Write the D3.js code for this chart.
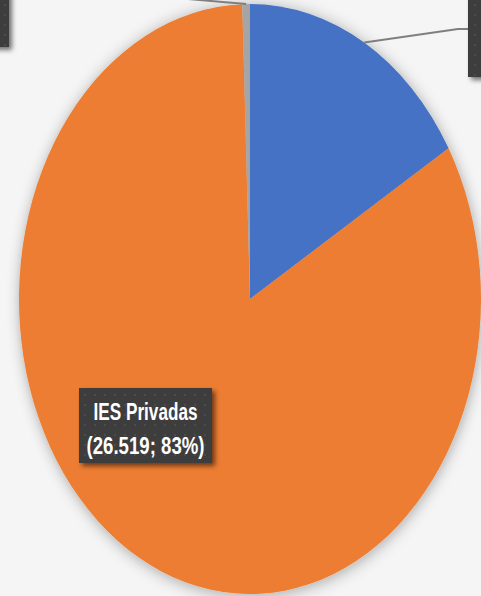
<!DOCTYPE html>
<html>
<head>
<meta charset="utf-8">
<script src="https://cdn.jsdelivr.net/npm/d3@7"></script>
<style>
  html, body { margin: 0; padding: 0; background: #f5f5f5; overflow: hidden; }
  svg { display: block; }
</style>
</head>
<body>
<div id="chart"></div>
<script>
// ── Data ─────────────────────────────────────────────────────
const categories = ['IES Públicas', 'IES Privadas', 'IES Especiais'];
const values     = [5260, 26519, 170];
const colors     = ['#4472C4', '#ED7D31', '#A5A5A5'];

const width  = 481;
const height = 596;
const cx = 250, cy = 299;
const rx = 231, ry = 295;

const total = d3.sum(values);
const fmtNum = d3.format(',d');
const label = (i) => `(${fmtNum(values[i]).replace(/,/g, '.')}; ${Math.round(values[i] / total * 100)}%)`;

const svg = d3.select('#chart').append('svg')
  .attr('width', width)
  .attr('height', height);

const defs = svg.append('defs');

// soft outer shadow round the pie
const pieShadow = defs.append('filter').attr('id', 'pieShadow')
  .attr('x', '-20%').attr('y', '-20%').attr('width', '140%').attr('height', '140%');
pieShadow.append('feDropShadow')
  .attr('dx', 1).attr('dy', 2).attr('stdDeviation', 8)
  .attr('flood-color', '#000').attr('flood-opacity', 0.32);

// label box shadow
const boxShadow = defs.append('filter').attr('id', 'boxShadow')
  .attr('x', '-20%').attr('y', '-20%').attr('width', '140%').attr('height', '140%');
boxShadow.append('feDropShadow')
  .attr('dx', 3).attr('dy', 3).attr('stdDeviation', 2.5)
  .attr('flood-color', '#000').attr('flood-opacity', 0.55);

// dotted dark fill of the label boxes
const dots = defs.append('pattern').attr('id', 'dots')
  .attr('patternUnits', 'userSpaceOnUse').attr('width', 10).attr('height', 10);
dots.append('rect').attr('width', 10).attr('height', 10).attr('fill', '#3d3d3d');
dots.append('rect').attr('x', 4).attr('y', 4).attr('width', 2).attr('height', 2).attr('fill', '#4c4c4c');

// ── Pie ──────────────────────────────────────────────────────
const pie = d3.pie().sort(null).value(d => d)(values);
const arc = d3.arc().innerRadius(0).outerRadius(ry);

svg.append('g')
  .attr('transform', `translate(${cx},${cy}) scale(${rx / ry},1)`)
  .attr('filter', 'url(#pieShadow)')
  .selectAll('path')
  .data(pie)
  .join('path')
  .attr('d', arc)
  .attr('fill', (d, i) => colors[i]);

// point on the ellipse edge at the middle of a slice
function edgePoint(d) {
  const a = (d.startAngle + d.endAngle) / 2;
  return [cx + rx * Math.sin(a), cy - ry * Math.cos(a)];
}

// ── Labels ───────────────────────────────────────────────────
// (the Públicas and Especiais boxes run off the canvas, as in the original)
const boxes = [
  { i: 0, x: 468, y: -30, w: 190, h: 107, leader: [[458, 29], [468, 29]] },
  { i: 1, x: 79,  y: 388, w: 133, h: 75,  leader: null },
  { i: 2, x: -150, y: -30, w: 159, h: 77, leader: [[165, -3]] },
];

const font = '"Liberation Sans", Arial, sans-serif';

boxes.forEach(b => {
  if (b.leader) {
    const pts = [edgePoint(pie[b.i]), ...b.leader];
    svg.append('path')
      .attr('d', d3.line()(pts))
      .attr('fill', 'none')
      .attr('stroke', '#7f7f7f')
      .attr('stroke-width', 2);
  }
  const g = svg.append('g');
  g.append('rect')
    .attr('x', b.x).attr('y', b.y)
    .attr('width', b.w).attr('height', b.h)
    .attr('fill', 'url(#dots)')
    .attr('filter', 'url(#boxShadow)');
  const t = g.append('text')
    .attr('text-anchor', 'middle')
    .attr('fill', '#ffffff')
    .attr('font-family', font)
    .attr('font-weight', 'bold')
    .attr('font-size', 23);
  t.append('tspan')
    .attr('x', b.x + b.w / 2).attr('y', b.y + b.h / 2 - 5.5)
    .attr('textLength', 104).attr('lengthAdjust', 'spacingAndGlyphs')
    .text(categories[b.i]);
  t.append('tspan')
    .attr('x', b.x + b.w / 2).attr('y', b.y + b.h / 2 + 28.5)
    .attr('textLength', 118).attr('lengthAdjust', 'spacingAndGlyphs')
    .text(label(b.i));
});
</script>
</body>
</html>
